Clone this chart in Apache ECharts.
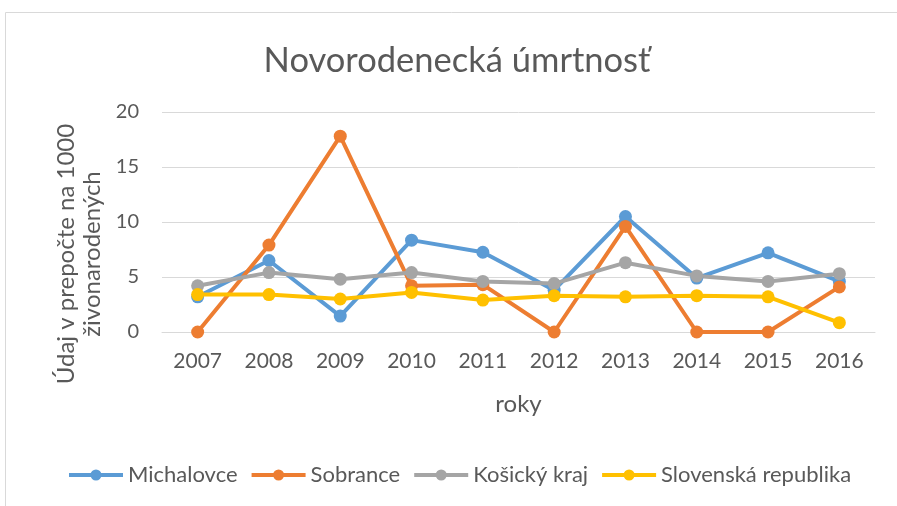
<!DOCTYPE html>
<html>
<head>
<meta charset="utf-8">
<script src="https://cdn.jsdelivr.net/npm/echarts@6/dist/echarts.min.js"></script>
<style>
html,body{margin:0;padding:0;background:#fff;}
#c{width:897px;height:506px;}
</style>
</head>
<body>
<div id="c"></div>
<script>
var years = ['2007','2008','2009','2010','2011','2012','2013','2014','2015','2016'];
var michalovce = [3.2, 6.5, 1.45, 8.35, 7.25, 3.8, 10.5, 4.9, 7.2, 4.6];
var sobrance = [0, 7.9, 17.8, 4.2, 4.3, 0, 9.6, 0, 0, 4.1];
var kosickyKraj = [4.2, 5.4, 4.8, 5.4, 4.6, 4.4, 6.3, 5.1, 4.6, 5.3];
var slovenskaRepublika = [3.4, 3.4, 3.0, 3.6, 2.9, 3.3, 3.2, 3.3, 3.2, 0.85];
var seriesNames = ['Michalovce','Sobrance','Košický kraj','Slovenská republika'];
var colors = ['#5B9BD5','#ED7D31','#A5A5A5','#FFC000'];

var font = 'Lato';
var txt = '#595959';
var legendIcon = 'path://M0,4 L22,4 L22,8 L0,8 Z M32,4 L54,4 L54,8 L32,8 Z M21.5,6 A5.5,5.5 0 1,1 32.5,6 A5.5,5.5 0 1,1 21.5,6 Z';
var chart = echarts.init(document.getElementById('c'));
var datas = [michalovce, sobrance, kosickyKraj, slovenskaRepublika];
chart.setOption({
  animation: false,
  color: colors,
  graphic: [{
    type: 'rect', shape: {x: 5.5, y: 12.5, width: 1000, height: 1000},
    style: {fill: 'none', stroke: '#D9D9D9', lineWidth: 1}, silent: true
  }],
  title: {
    text: 'Novorodenecká úmrtnosť',
    left: 452, top: 38, textAlign: 'center',
    textStyle: {fontFamily: font, fontWeight: 400, fontSize: 34.5, color: txt}
  },
  legend: {
    left: 69, top: 464, padding: 0,
    itemWidth: 54, itemHeight: 12, itemGap: 14,
    textStyle: {fontFamily: font, fontSize: 22, color: txt},
    data: seriesNames.map(function(n){ return {name: n, icon: legendIcon}; })
  },
  grid: {left: 162, right: 22, top: 112, bottom: 174},
  xAxis: {
    type: 'category', data: years, boundaryGap: true,
    name: 'roky', nameLocation: 'middle', nameGap: 60,
    nameTextStyle: {fontFamily: font, fontSize: 24, color: txt},
    axisLine: {show: true, lineStyle: {color: '#D9D9D9', width: 1}},
    axisTick: {show: false},
    axisLabel: {fontFamily: font, fontSize: 21, color: txt, margin: 19}
  },
  yAxis: {
    type: 'value', min: 0, max: 20, interval: 5,
    name: 'Údaj v prepočte na 1000\nživonarodených', nameLocation: 'middle', nameGap: 57,
    nameTextStyle: {fontFamily: font, fontSize: 24, color: txt, lineHeight: 26, padding: [0, 64, 0, 0]},
    axisLine: {show: false}, axisTick: {show: false},
    axisLabel: {fontFamily: font, fontSize: 20, color: txt, margin: 23},
    splitLine: {lineStyle: {color: '#D9D9D9', width: 1}}
  },
  series: datas.map(function(d, i){
    return {
      name: seriesNames[i], type: 'line', data: d,
      symbol: 'circle', symbolSize: 13,
      lineStyle: {width: 4, color: colors[i]},
      itemStyle: {color: colors[i]}
    };
  })
});
</script>
</body>
</html>
